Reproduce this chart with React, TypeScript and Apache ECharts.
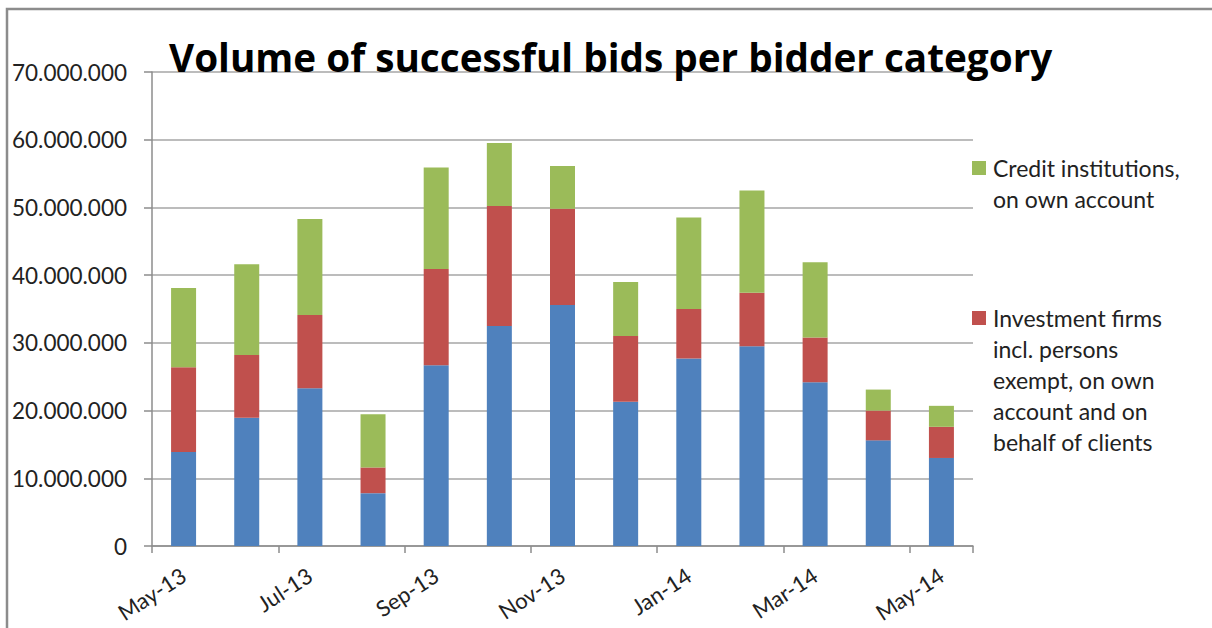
import React, { useEffect, useRef } from "react";
import * as echarts from "echarts";

const categories = [
  "May-13", "Jun-13", "Jul-13", "Aug-13", "Sep-13", "Oct-13", "Nov-13",
  "Dec-13", "Jan-14", "Feb-14", "Mar-14", "Apr-14", "May-14",
];

const otherBidders = [
  13900000, 18950000, 23300000, 7800000, 26700000, 32500000, 35600000,
  21300000, 27700000, 29500000, 24200000, 15600000, 13000000,
];

const investmentFirms = [
  12500000, 9250000, 10800000, 3800000, 14200000, 17700000, 14200000,
  9700000, 7300000, 7900000, 6600000, 4400000, 4600000,
];

const creditInstitutions = [
  11700000, 13400000, 14200000, 7850000, 15000000, 9300000, 6300000,
  8000000, 13500000, 15100000, 11100000, 3100000, 3100000,
];

const yTicks = { min: 0, max: 70000000, interval: 10000000 };

const TITLE = "Volume of successful bids per bidder category";
const NAME_BLUE = "Other bidders";
const NAME_RED = "Investment firms\nincl. persons\nexempt, on own\naccount and on\nbehalf of clients";
const NAME_GREEN = "Credit institutions,\non own account";

const FONT = "Lato";
const LH = 31;

function fmt(v: number): string {
  return String(Math.round(v)).replace(/\B(?=(\d{3})+(?!\d))/g, ".");
}

// square icon aligned with the first text line of a multi-line legend entry
function iconPath(lines: number): string {
  const h = lines * LH;
  const y0 = LH / 2 - 7;
  return `path://M0,0h0.01v0.01h-0.01zM16,${h}h0.01v0.01h-0.01zM0,${y0}h14v14h-14z`;
}

export default function App() {
  const ref = useRef<HTMLDivElement>(null);
  useEffect(() => {
    if (!ref.current) return;
    const chart = echarts.init(ref.current, undefined, { renderer: "svg" });
    const legendCfg = (name: string, lines: number, top: number) => ({
      data: [name],
      orient: "vertical",
      left: 972,
      top,
      padding: 0,
      itemWidth: 16,
      itemHeight: lines * LH,
      icon: iconPath(lines),
      selectedMode: false,
      textStyle: {
        fontFamily: FONT,
        fontSize: 23,
        color: "#222",
        lineHeight: LH,
      },
    });
    chart.setOption({
      animation: false,
      backgroundColor: "#ffffff",
      title: {
        text: TITLE,
        left: 169,
        top: 37.3,
        padding: 0,
        textStyle: { fontFamily: "Open Sans", fontWeight: "bold", fontSize: 38.7, color: "#000" },
      },
      legend: [
        legendCfg(NAME_GREEN, 2, 152.5),
        legendCfg(NAME_RED, 5, 302.5),
      ],
      grid: {
        left: 152,
        right: 239,
        top: 72,
        bottom: 82,
        containLabel: false,
        outerBoundsMode: "none",
      },
      xAxis: {
        type: "category",
        data: categories,
        boundaryGap: true,
        axisLine: { show: true, lineStyle: { color: "#8c8c8c", width: 1.5 } },
        axisTick: { show: true, interval: 1, length: 7, lineStyle: { color: "#8c8c8c", width: 1.5 } },
        axisLabel: {
          interval: 1,
          rotate: 33,
          margin: 27,
          fontFamily: FONT,
          fontSize: 22,
          color: "#222",
        },
      },
      yAxis: {
        type: "value",
        min: yTicks.min,
        max: yTicks.max,
        interval: yTicks.interval,
        axisLine: { show: true, lineStyle: { color: "#8c8c8c", width: 1.5 } },
        axisTick: { show: true, length: 8, lineStyle: { color: "#8c8c8c", width: 1.5 } },
        splitLine: { show: true, lineStyle: { color: "#a6a6a6", width: 1.5 } },
        axisLabel: {
          margin: 25,
          fontFamily: FONT,
          fontSize: 22.5,
          color: "#222",
          formatter: (v: number) => fmt(v),
        },
      },
      series: [
        {
          name: NAME_BLUE,
          type: "bar",
          stack: "total",
          barWidth: 25,
          data: otherBidders,
          itemStyle: { color: "#4F81BD" },
        },
        {
          name: NAME_RED,
          type: "bar",
          stack: "total",
          barWidth: 25,
          data: investmentFirms,
          itemStyle: { color: "#C0504D" },
        },
        {
          name: NAME_GREEN,
          type: "bar",
          stack: "total",
          barWidth: 25,
          data: creditInstitutions,
          itemStyle: { color: "#9BBB59" },
        },
      ],
      graphic: [
        {
          type: "rect",
          silent: true,
          shape: { x: 7, y: 9, width: 1220, height: 640 },
          style: { fill: "none", stroke: "#8c8c8c", lineWidth: 2.5 },
          z: 100,
        },
      ],
    });
    return () => chart.dispose();
  }, []);
  return (
    <div
      ref={ref}
      style={{ position: "absolute", left: 0, top: 0, width: 1212, height: 628 }}
    />
  );
}
